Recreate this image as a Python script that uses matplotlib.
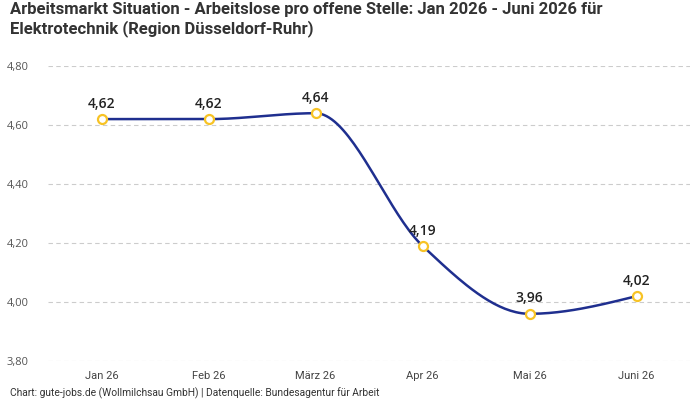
import numpy as np
import matplotlib
matplotlib.use("Agg")
import matplotlib.pyplot as plt

months = ["Jan 26", "Feb 26", "März 26", "Apr 26", "Mai 26", "Juni 26"]
values = [4.62, 4.62, 4.64, 4.19, 3.96, 4.02]
value_labels = ["4,62", "4,62", "4,64", "4,19", "3,96", "4,02"]
y_ticks = [3.80, 4.00, 4.20, 4.40, 4.60, 4.80]
y_tick_labels = ["3,80", "4,00", "4,20", "4,40", "4,60", "4,80"]

title = "Arbeitsmarkt Situation - Arbeitslose pro offene Stelle: Jan 2026 - Juni 2026 für\nElektrotechnik (Region Düsseldorf-Ruhr)"
footer = "Chart: gute-jobs.de (Wollmilchsau GmbH) | Datenquelle: Bundesagentur für Arbeit"


def monotone_curve(x, y, n=40):
    x = np.asarray(x, float)
    y = np.asarray(y, float)
    h = np.diff(x)
    d = np.diff(y) / h
    m = np.zeros_like(y)
    for i in range(1, len(y) - 1):
        p = (d[i-1] * h[i] + d[i] * h[i-1]) / (h[i-1] + h[i])
        m[i] = (np.sign(d[i-1]) + np.sign(d[i])) * min(abs(d[i-1]), abs(d[i]), 0.5 * abs(p))
    m[0] = (3 * d[0] - m[1]) / 2
    m[-1] = (3 * d[-1] - m[-2]) / 2
    xs, ys = [], []
    for i in range(len(x) - 1):
        t = np.linspace(0, 1, n)
        hh = h[i]
        h00 = 2*t**3 - 3*t**2 + 1
        h10 = t**3 - 2*t**2 + t
        h01 = -2*t**3 + 3*t**2
        h11 = t**3 - t**2
        yy = h00*y[i] + h10*hh*m[i] + h01*y[i+1] + h11*hh*m[i+1]
        xs.append(x[i] + t*hh)
        ys.append(yy)
    return np.concatenate(xs), np.concatenate(ys)


fig = plt.figure(figsize=(7, 4), dpi=100)
ax = fig.add_axes([0.0686, 0.0975, 0.9174, 0.7375])

xpos = np.arange(len(months))
cx, cy = monotone_curve(xpos, values)
ax.plot(cx, cy, color="#1f2f8f", lw=1.8, zorder=2)
ax.scatter(xpos, values, s=42, facecolor="white", edgecolor="#f7c325", linewidth=1.6, zorder=3)
for xi, v, lab in zip(xpos, values, value_labels):
    ax.annotate(lab, (xi, v), xytext=(0, 6), textcoords="offset points",
                ha="center", va="bottom", fontsize=10, fontweight="semibold",
                color="#222222", family="Open Sans")

ax.set_xlim(-0.5, len(months) - 0.5)
ax.set_ylim(3.80, 4.80)
ax.set_xticks(xpos)
ax.set_xticklabels(months, family="Roboto", fontsize=8, color="#444444")
ax.set_yticks(y_ticks)
ax.set_yticklabels(y_tick_labels, family="Open Sans", fontsize=8, color="#555555")
ax.tick_params(length=0)
ax.tick_params(axis="x", pad=7)
ax.tick_params(axis="y", pad=14)
ax.grid(axis="y", color="#cccccc", linestyle=(0, (4, 3)), lw=0.8)
for s in ax.spines.values():
    s.set_visible(False)

fig.text(0.014, 0.995, title, ha="left", va="top", fontsize=12, fontweight="bold",
         color="#333333", family="Roboto", linespacing=1.2)
fig.text(0.014, 0.017, footer, ha="left", va="center", fontsize=7.4, color="#333333", family="Roboto")

fig.savefig("out.png", dpi=100)
